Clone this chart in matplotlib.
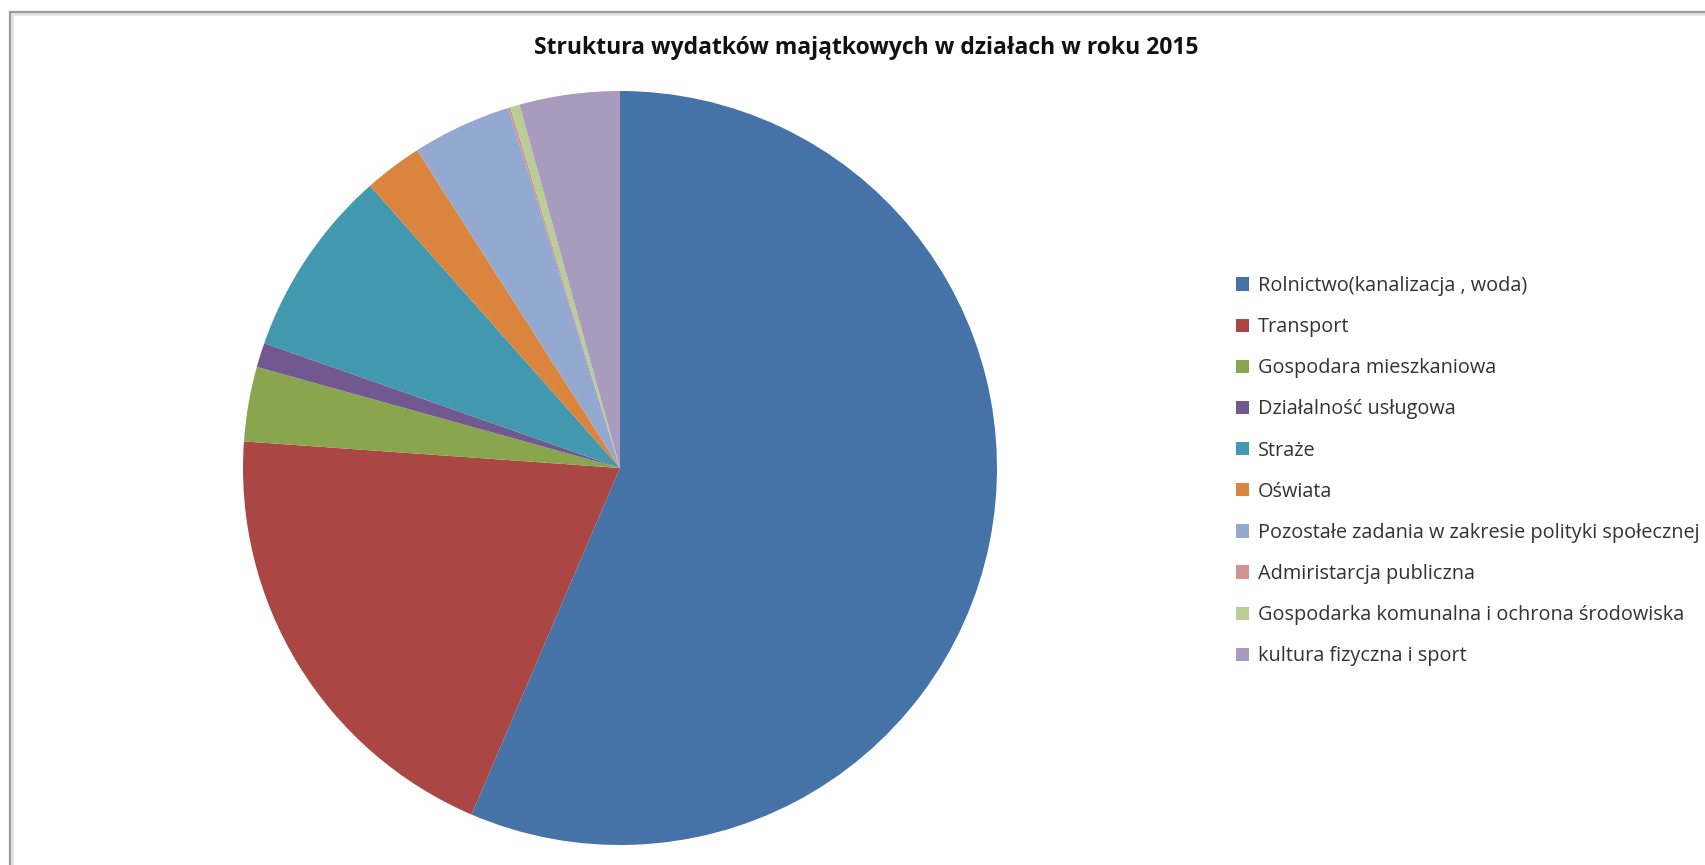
import matplotlib.pyplot as plt
import matplotlib.patches as mpatches

title = "Struktura wydatków majątkowych w działach w roku 2015"

labels = [
    "Rolnictwo(kanalizacja , woda)",
    "Transport",
    "Gospodara mieszkaniowa",
    "Działalność usługowa",
    "Straże",
    "Oświata",
    "Pozostałe zadania w zakresie polityki społecznej",
    "Admiristarcja publiczna",
    "Gospodarka komunalna i ochrona środowiska",
    "kultura fizyczna i sport",
]
# shares in percent
shares = [56.5, 19.7, 3.2, 1.05, 8.1, 2.5, 4.25, 0.1, 0.4, 4.3]
colors = ["#4572A7", "#AA4643", "#89A54E", "#71588F", "#4198AF",
          "#DB843D", "#93A9CF", "#D19392", "#B9CD96", "#A99BBD"]

W, H = 1706, 865
fig = plt.figure(figsize=(W / 100, H / 100), dpi=100)
fig.patch.set_facecolor("white")

# chart area border (only top and left visible in the crop)
fig.add_artist(mpatches.Rectangle((12 / W, -0.1), 2, 1 - 14 / H + 0.1,
                                  transform=fig.transFigure, fill=False,
                                  edgecolor="#e3e3e3", lw=2))
fig.add_artist(mpatches.Rectangle((10 / W, -0.1), 2, 1 - 12 / H + 0.1,
                                  transform=fig.transFigure, fill=False,
                                  edgecolor="#9c9c9c", lw=1.6))

cx, cy, r = 620, 468, 377
ax = fig.add_axes([(cx - r) / W, (H - cy - r) / H, 2 * r / W, 2 * r / H])
wedges, _ = ax.pie(shares, colors=colors, startangle=90, counterclock=False,
                   radius=1, wedgeprops=dict(linewidth=0))
ax.set_xlim(-1, 1)
ax.set_ylim(-1, 1)
ax.set_aspect("equal")
ax.axis("off")

fig.text(866 / W, 1 - 48 / H, title, ha="center", va="center",
         fontsize=16.5, fontweight="bold", fontfamily="Open Sans", color="#111111")

leg = fig.legend(wedges, labels, loc="upper left",
                 bbox_to_anchor=(1236 / W, 1 - 276 / H),
                 frameon=False, prop={"family": "Open Sans", "size": 14.3},
                 handlelength=0.65, handleheight=0.65, handletextpad=0.45,
                 labelspacing=1.065, borderpad=0, borderaxespad=0)
for t in leg.get_texts():
    t.set_color("#333333")

fig.savefig("out.png", dpi=100)
